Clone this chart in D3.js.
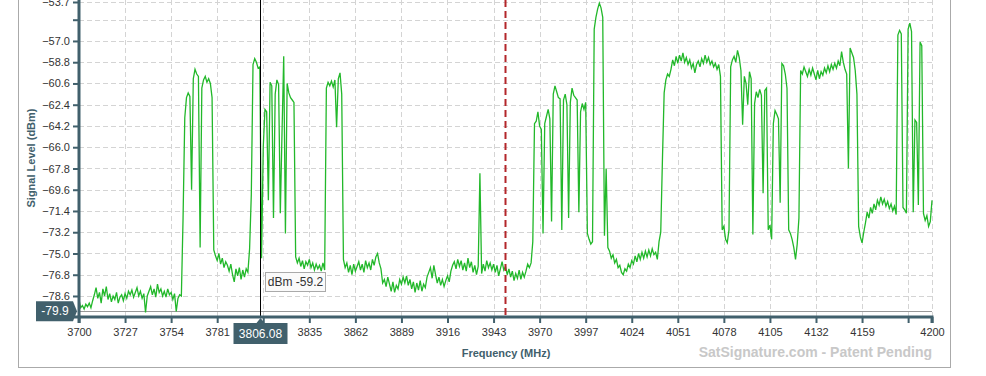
<!DOCTYPE html>
<html>
<head>
<meta charset="utf-8">
<script src="https://cdn.jsdelivr.net/npm/d3@7"></script>
<style>
  body { margin: 0; background: #fff; }
  text { font-family: Arial, "Liberation Sans", sans-serif; }
</style>
</head>
<body>
<div id="chart"></div>
<script>
// spectrum sweep: one reading per MHz starting at 3700 MHz
var startMHz = 3700;
var stepMHz = 1;
var levels = [
  -78.9, -79.6, -79.4, -79.7, -79.3, -79.5, -79.2, -79.6, -79.0, -78.5, // 3700
  -77.9, -78.8, -78.3, -79.2, -78.0, -78.6, -77.8, -78.9, -78.4, -79.1, // 3710
  -78.6, -78.9, -78.3, -79.2, -78.7, -78.5, -79.0, -78.4, -78.8, -78.2, // 3720
  -78.5, -78.1, -78.7, -78.3, -77.9, -78.6, -78.2, -78.8, -78.4, -80.0, // 3730
  -78.6, -78.2, -77.8, -78.5, -78.0, -78.7, -77.6, -78.3, -78.0, -78.6, // 3740
  -78.2, -78.7, -78.0, -78.5, -78.3, -78.9, -78.4, -79.9, -78.8, -78.5, // 3750
  -78.6, -72.0, -63.5, -61.8, -61.4, -61.7, -69.6, -60.2, -59.4, -59.8, // 3760
  -60.0, -74.5, -61.0, -60.3, -60.0, -60.5, -60.2, -60.6, -61.8, -74.7, // 3770
  -75.2, -75.6, -75.0, -75.9, -75.4, -76.2, -75.7, -76.0, -76.5, -75.9, // 3780
  -76.8, -77.4, -76.3, -76.9, -76.2, -77.2, -76.4, -77.0, -76.3, -76.6, // 3790
  -74.6, -70.0, -59.0, -58.5, -58.8, -59.3, -59.2, -75.4, -66.0, -62.8, // 3800
  -63.0, -70.5, -60.5, -60.8, -72.0, -61.5, -60.3, -60.7, -71.6, -64.8, // 3810
  -58.3, -73.3, -60.6, -61.4, -61.8, -62.0, -62.2, -75.3, -75.8, -75.4, // 3820
  -76.1, -75.6, -76.3, -75.7, -76.0, -75.5, -76.2, -75.8, -76.4, -75.9, // 3830
  -76.3, -76.0, -76.5, -75.8, -76.4, -61.0, -60.5, -60.8, -60.4, -60.9, // 3840
  -60.3, -64.3, -60.2, -59.7, -61.5, -75.5, -76.2, -75.8, -76.6, -76.0, // 3850
  -76.8, -75.9, -76.5, -76.1, -75.7, -76.4, -75.9, -76.6, -75.6, -76.2, // 3860
  -75.8, -76.4, -75.5, -76.0, -75.3, -75.0, -75.8, -76.3, -77.5, -77.2, // 3870
  -77.8, -77.0, -77.6, -78.2, -77.4, -78.3, -77.7, -78.0, -77.2, -77.6, // 3880
  -77.0, -77.5, -76.9, -77.7, -77.2, -78.0, -77.4, -78.3, -77.5, -78.1, // 3890
  -77.3, -78.2, -77.6, -77.9, -77.0, -76.6, -76.2, -77.1, -76.0, -76.8, // 3900
  -77.5, -77.0, -77.7, -77.2, -77.8, -77.3, -76.9, -77.4, -76.5, -76.0, // 3910
  -75.7, -76.3, -75.5, -76.1, -75.6, -76.4, -75.8, -76.5, -75.4, -76.2, // 3920
  -75.7, -76.6, -76.0, -76.8, -76.1, -68.2, -76.7, -75.9, -76.5, -75.6, // 3930
  -76.2, -75.8, -76.4, -75.9, -76.6, -76.0, -76.9, -76.3, -75.7, -76.4, // 3940
  -76.1, -76.8, -76.3, -77.0, -76.5, -77.3, -76.7, -77.1, -76.4, -77.2, // 3950
  -76.6, -77.0, -76.5, -75.9, -76.2, -75.8, -74.0, -64.0, -63.8, -63.0, // 3960
  -64.2, -64.5, -73.3, -64.0, -63.4, -62.8, -63.6, -72.3, -61.5, -60.8, // 3970
  -61.3, -61.8, -61.9, -73.0, -62.0, -61.5, -62.4, -72.0, -62.2, -61.0, // 3980
  -61.6, -61.8, -62.0, -71.5, -63.0, -62.3, -62.8, -62.2, -73.3, -73.8, // 3990
  -74.2, -74.0, -56.0, -55.0, -54.3, -53.8, -54.2, -55.0, -73.5, -67.8, // 4000
  -74.5, -74.8, -75.4, -75.1, -75.8, -75.5, -76.2, -76.0, -76.6, -76.8, // 4010
  -76.3, -76.5, -75.9, -76.2, -75.6, -75.9, -75.2, -75.7, -75.0, -75.5, // 4020
  -74.9, -75.4, -74.8, -75.3, -74.7, -75.2, -74.6, -75.1, -74.9, -75.5, // 4030
  -74.0, -73.2, -67.0, -61.4, -60.3, -59.8, -60.0, -59.4, -58.6, -59.1, // 4040
  -58.3, -58.9, -58.2, -58.7, -58.0, -58.8, -58.4, -59.0, -58.6, -59.3, // 4050
  -58.9, -59.7, -59.0, -58.7, -59.2, -58.5, -58.9, -58.2, -58.8, -58.4, // 4060
  -59.0, -58.7, -59.2, -58.9, -59.4, -59.0, -60.0, -73.0, -72.7, -73.8, // 4070
  -74.1, -73.0, -59.2, -58.6, -58.3, -58.8, -57.8, -58.4, -59.5, -64.1, // 4080
  -60.0, -60.6, -62.4, -59.6, -60.2, -73.4, -62.3, -61.3, -61.8, -61.1, // 4090
  -61.6, -69.9, -61.2, -61.0, -73.0, -72.6, -73.8, -64.0, -62.9, -63.2, // 4100
  -63.6, -70.7, -58.9, -59.1, -59.8, -61.0, -73.0, -73.3, -73.8, -74.5, // 4110
  -75.5, -74.2, -72.0, -59.5, -59.8, -59.2, -59.6, -60.0, -59.4, -59.9, // 4120
  -59.3, -59.8, -60.3, -59.5, -60.2, -59.6, -59.9, -59.3, -59.7, -59.1, // 4130
  -59.6, -59.0, -59.4, -58.9, -59.3, -58.7, -59.1, -57.9, -58.8, -59.4, // 4140
  -59.8, -67.8, -57.6, -58.0, -58.4, -59.5, -61.5, -72.7, -73.6, -74.1, // 4150
  -73.2, -72.4, -71.5, -72.0, -71.1, -71.6, -70.8, -71.3, -70.5, -70.9, // 4160
  -70.2, -70.8, -70.4, -71.0, -70.6, -71.2, -70.8, -71.4, -71.0, -71.7, // 4170
  -56.5, -56.1, -56.4, -71.1, -71.3, -71.6, -56.0, -55.5, -56.2, -71.5, // 4180
  -63.7, -63.9, -70.9, -57.1, -57.4, -71.6, -72.2, -71.8, -72.7, -72.3, // 4190
  -70.5                                                                 // 4200
];

var xTicks = [3700, 3727, 3754, 3781, 3808, 3835, 3862, 3889, 3916, 3943,
  3970, 3997, 4024, 4051, 4078, 4105, 4132, 4159, 4186, 4200];
var xHiddenLabels = [3808, 4186];
var yTicks = [-53.7, -55.2, -57.0, -58.8, -60.6, -62.4, -64.2, -66.0, -67.8,
  -69.6, -71.4, -73.2, -75.0, -76.8, -78.6];
var yHiddenLabels = [-55.2];

var yDomain = [-80.38, -53.7];
var noiseFloor = -79.9;
var markerMHz = 3950;
var cursorMHz = 3806.08;
var cursorLevel = -59.2;

var svgWidth = 986, svgHeight = 376;
var margin = { top: 2, right: 54, bottom: 59, left: 79 };
var width = svgWidth - margin.left - margin.right;
var height = svgHeight - margin.top - margin.bottom;

var slate = "#41606c";

var svg = d3.select("#chart").append("svg")
  .attr("width", svgWidth)
  .attr("height", svgHeight);

// outer frame
svg.append("rect")
  .attr("x", 18.5).attr("y", -10)
  .attr("width", 932).attr("height", 377.5)
  .attr("fill", "none")
  .attr("stroke", "#aaa");

var chartGroup = svg.append("g")
  .attr("transform", `translate(${margin.left}, ${margin.top})`);

var xScale = d3.scaleLinear().domain([3700, 4200]).range([0, width]);
var yScale = d3.scaleLinear().domain(yDomain).range([height, 0]);

// grid
chartGroup.append("g").selectAll("line")
  .data(yTicks)
  .enter().append("line")
  .attr("x1", 0).attr("x2", width)
  .attr("y1", d => Math.round(yScale(d)) + 0.5)
  .attr("y2", d => Math.round(yScale(d)) + 0.5)
  .attr("stroke", "#d4d4d4")
  .attr("stroke-dasharray", "5,3");

chartGroup.append("g").selectAll("line")
  .data(xTicks.slice(1))
  .enter().append("line")
  .attr("x1", d => Math.round(xScale(d)) + 0.5)
  .attr("x2", d => Math.round(xScale(d)) + 0.5)
  .attr("y1", -margin.top).attr("y2", height)
  .attr("stroke", "#d4d4d4")
  .attr("stroke-dasharray", "5,3");

// noise floor line
chartGroup.append("line")
  .attr("x1", 0).attr("x2", width)
  .attr("y1", Math.round(yScale(noiseFloor)) + 0.5)
  .attr("y2", Math.round(yScale(noiseFloor)) + 0.5)
  .attr("stroke", "#999");

// trace
var line = d3.line()
  .x((d, i) => xScale(startMHz + i * stepMHz))
  .y(d => yScale(d));

chartGroup.append("path")
  .datum(levels)
  .attr("d", line)
  .attr("fill", "none")
  .attr("stroke", "#22b82a")
  .attr("stroke-width", 1.3);

// red marker
chartGroup.append("line")
  .attr("x1", xScale(markerMHz)).attr("x2", xScale(markerMHz))
  .attr("y1", -margin.top).attr("y2", height)
  .attr("stroke", "#b3262b")
  .attr("stroke-width", 2)
  .attr("stroke-dasharray", "7,4");

// cursor
var cx = Math.round(xScale(cursorMHz)) + 0.5;
chartGroup.append("line")
  .attr("x1", cx).attr("x2", cx)
  .attr("y1", -margin.top).attr("y2", height)
  .attr("stroke", "#000");

// axes
var xAxis = d3.axisBottom(xScale)
  .tickValues(xTicks)
  .tickSize(6)
  .tickPadding(5)
  .tickFormat(d => xHiddenLabels.indexOf(d) >= 0 ? "" : d);
var yAxis = d3.axisLeft(yScale)
  .tickValues(yTicks)
  .tickSize(6)
  .tickPadding(3)
  .tickFormat(d => yHiddenLabels.indexOf(d) >= 0 ? "" : d3.format(".1f")(d));

var gx = chartGroup.append("g")
  .attr("transform", `translate(0, ${height})`)
  .call(xAxis);
var gy = chartGroup.append("g").call(yAxis);

[gx, gy].forEach(function (g) {
  g.select(".domain").attr("stroke", slate).attr("stroke-width", 3);
  g.selectAll(".tick line").attr("stroke", slate).attr("stroke-width", 2);
  g.selectAll(".tick text").attr("fill", "#333").style("font-size", "11px")
    .style("font-family", "Arial, 'Liberation Sans', sans-serif");
});
gy.select(".domain").attr("d", `M-6,${-margin.top - 5}H0V${height}H-6`);
gx.select(".domain").attr("d", `M0,6V0H${width}V6`);

// noise floor label
var nfY = yScale(noiseFloor);
chartGroup.append("path")
  .attr("d", `M-43,${nfY - 10}H-6L-2,${nfY}L-6,${nfY + 10}H-43Z`)
  .attr("fill", slate);
chartGroup.append("text")
  .attr("x", -24).attr("y", nfY + 4)
  .attr("text-anchor", "middle")
  .attr("fill", "#fff")
  .style("font-size", "12px")
  .text(noiseFloor.toFixed(1));

// cursor frequency label
chartGroup.append("path")
  .attr("d", `M${cx - 27},${height + 6}H${cx - 4}L${cx},${height + 1}L${cx + 4},${height + 6}H${cx + 27}V${height + 27}H${cx - 27}Z`)
  .attr("fill", slate);
chartGroup.append("text")
  .attr("x", cx).attr("y", height + 21)
  .attr("text-anchor", "middle")
  .attr("fill", "#fff")
  .style("font-size", "12px")
  .text(cursorMHz.toFixed(2));

// tooltip
chartGroup.append("rect")
  .attr("x", cx + 5).attr("y", 270.5)
  .attr("width", 60).attr("height", 19)
  .attr("fill", "#fafafa")
  .attr("stroke", "#aaa");
chartGroup.append("text")
  .attr("x", cx + 35).attr("y", 284)
  .attr("text-anchor", "middle")
  .attr("fill", "#333")
  .style("font-size", "12px")
  .text("dBm " + cursorLevel.toFixed(1));

// axis titles
svg.append("text")
  .attr("x", 506).attr("y", 357)
  .attr("text-anchor", "middle")
  .attr("fill", slate)
  .style("font-size", "11px")
  .style("font-weight", "bold")
  .text("Frequency (MHz)");

svg.append("text")
  .attr("transform", "translate(35, 158) rotate(-90)")
  .attr("text-anchor", "middle")
  .attr("fill", slate)
  .style("font-size", "11px")
  .style("font-weight", "bold")
  .text("Signal Level (dBm)");

svg.append("text")
  .attr("x", 932).attr("y", 357)
  .attr("text-anchor", "end")
  .attr("fill", "#c8c8c8")
  .style("font-size", "14px")
  .style("font-weight", "bold")
  .text("SatSignature.com - Patent Pending");
</script>
</body>
</html>
